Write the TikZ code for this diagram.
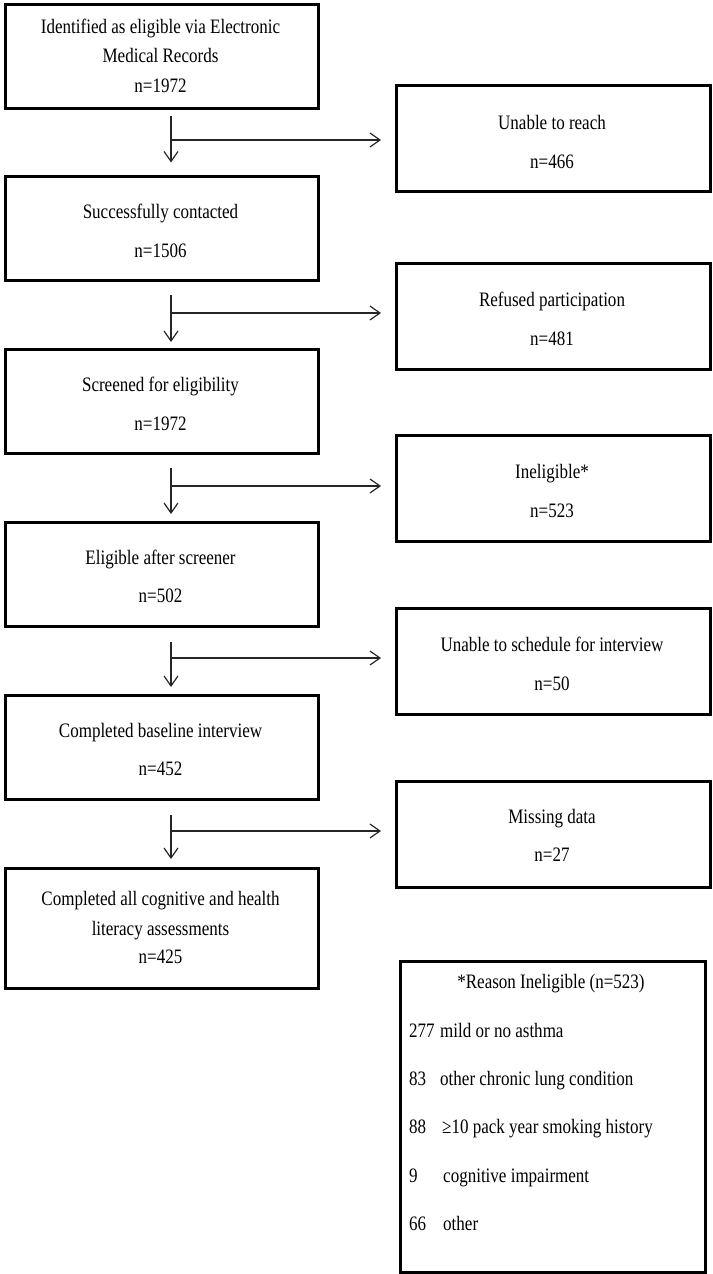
\documentclass[tikz,border=0pt]{standalone}
\usepackage{fontspec}
\setmainfont{Liberation Serif}[FakeStretch=0.83]
\usetikzlibrary{arrows.meta,calc}
\begin{document}
\begin{tikzpicture}[x=1pt,y=-1pt,
  font=\fontsize{20.5}{29}\selectfont,
  lbox/.style={draw, line width=3pt, minimum width=313pt, minimum height=104pt, inner sep=0pt, anchor=north west},
  rbox/.style={draw, line width=3pt, minimum width=314pt, minimum height=106pt, inner sep=0pt, anchor=north west},
  txt/.style={anchor=base, inner sep=0pt},
  ltxt/.style={anchor=base west, inner sep=0pt},
  arr/.style={line width=1.2pt, black!85, -{Straight Barb[length=10pt,width=14pt,line width=1.2pt]}},
  seg/.style={line width=1.2pt, black!85}]
\useasboundingbox (0,0) rectangle (712,1274);
% left column boxes
\node[lbox] (b1) at (4,2.5) {};
\node[lbox] (b2) at (4,174.5) {};
\node[lbox] (b3) at (4,347.5) {};
\node[lbox] (b4) at (4,520.5) {};
\node[lbox] (b5) at (4,693.5) {};
\node[lbox, minimum height=120.5pt] (b6) at (4,866.5) {};
% right column boxes
\node[rbox] (r1) at (395,84) {};
\node[rbox] (r2) at (395,262) {};
\node[rbox] (r3) at (395,434) {};
\node[rbox] (r4) at (395,607) {};
\node[rbox] (r5) at (395,780) {};
\node[draw, line width=3pt, minimum width=305.5pt, minimum height=311pt, inner sep=0pt, anchor=north west] (rs) at (398.5,960) {};
% left texts
\node[txt] (t1a) at (160.5,33) {Identified as eligible via Electronic};
\node[txt] (t1b) at (160.5,62.5) {Medical Records};
\node[txt] (t1c) at (160.5,92) {n=1972};
\node[txt] (t2a) at (160.5,218) {Successfully contacted};
\node[txt] (t2b) at (160.5,257) {n=1506};
\node[txt] (t3a) at (160.5,391.5) {Screened for eligibility};
\node[txt] (t3b) at (160.5,430) {n=1972};
\node[txt] (t4a) at (160.5,564) {Eligible after screener};
\node[txt] (t4b) at (160.5,602) {n=502};
\node[txt] (t5a) at (160.5,737) {Completed baseline interview};
\node[txt] (t5b) at (160.5,775) {n=452};
\node[txt] (t6a) at (160.5,905) {Completed all cognitive and health};
\node[txt] (t6b) at (160.5,935) {literacy assessments};
\node[txt] (t6c) at (160.5,963) {n=425};
% right texts
\node[txt] (u1a) at (552,129) {Unable to reach};
\node[txt] (u1b) at (552,168) {n=466};
\node[txt] (u2a) at (552,306) {Refused participation};
\node[txt] (u2b) at (552,345) {n=481};
\node[txt] (u3a) at (552,478) {Ineligible*};
\node[txt] (u3b) at (552,517) {n=523};
\node[txt] (u4a) at (552,651) {Unable to schedule for interview};
\node[txt] (u4b) at (552,690) {n=50};
\node[txt] (u5a) at (552,823) {Missing data};
\node[txt] (u5b) at (552,861) {n=27};
% reasons
\node[txt] (rt) at (551,988) {*Reason Ineligible (n=523)};
\node[ltxt] (n1) at (409,1037) {277};
\node[ltxt] (m1) at (440,1037) {mild or no asthma};
\node[ltxt] (n2) at (409,1085) {83};
\node[ltxt] (m2) at (440,1085) {other chronic lung condition};
\node[ltxt] (n3) at (409,1133) {88};
\node[ltxt] (m3) at (442,1133) {≥10 pack year smoking history};
\node[ltxt] (n4) at (409,1182) {9};
\node[ltxt] (m4) at (443,1182) {cognitive impairment};
\node[ltxt] (n5) at (409,1230) {66};
\node[ltxt] (m5) at (443,1230) {other};
% arrows
\coordinate (s1) at (171,116);
\coordinate (s2) at (171,295);
\coordinate (s3) at (171,468);
\coordinate (s4) at (171,642);
\coordinate (s5) at (171,815);
\coordinate (j1) at (171,140);
\coordinate (j2) at (171,313);
\coordinate (j3) at (171,486);
\coordinate (j4) at (171,658);
\coordinate (j5) at (171,831);
\draw[arr, shorten >=12pt] (s1) -- (s1 |- b2.north);
\draw[arr, shorten >=5.5pt] (s2) -- (s2 |- b3.north);
\draw[arr, shorten >=6.5pt] (s3) -- (s3 |- b4.north);
\draw[arr, shorten >=6.5pt] (s4) -- (s4 |- b5.north);
\draw[arr, shorten >=7.5pt] (s5) -- (s5 |- b6.north);
\draw[arr, shorten >=14pt] (j1) -- (j1 -| r1.west);
\draw[arr, shorten >=14pt] (j2) -- (j2 -| r2.west);
\draw[arr, shorten >=14pt] (j3) -- (j3 -| r3.west);
\draw[arr, shorten >=14pt] (j4) -- (j4 -| r4.west);
\draw[arr, shorten >=14pt] (j5) -- (j5 -| r5.west);
\end{tikzpicture}
\end{document}
